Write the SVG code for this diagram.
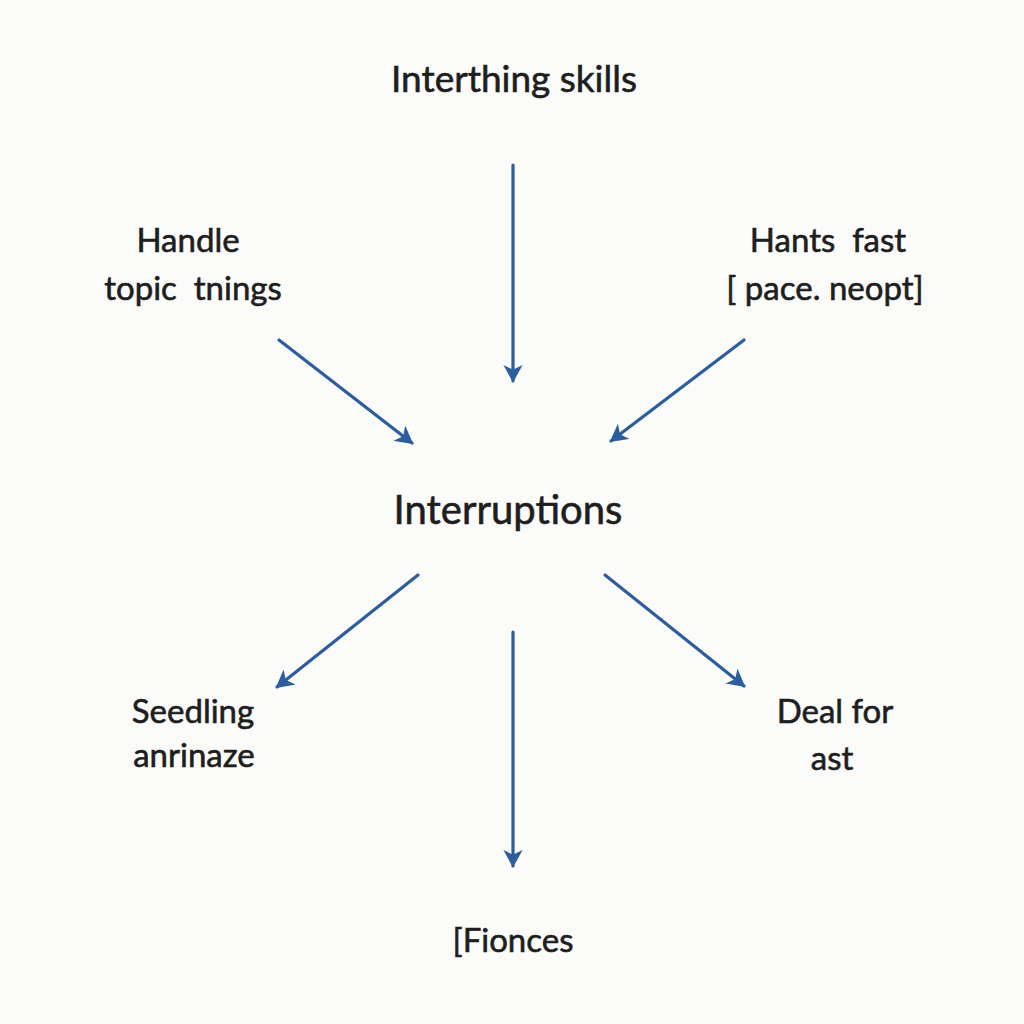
<svg xmlns="http://www.w3.org/2000/svg" width="1024" height="1024" viewBox="0 0 1024 1024">
<style>
.t{font-family:Lato,"Open Sans","Liberation Sans",sans-serif;fill:#1e1e1e;stroke:#1e1e1e;stroke-width:0.6;text-anchor:middle;font-size:33px}
.c{stroke:#2c5d9c;stroke-width:3.2;fill:none;stroke-linecap:round}
</style>
<defs>
<marker id="ah" viewBox="0 0 12 12" refX="10" refY="6" markerWidth="6" markerHeight="6" orient="auto" markerUnits="strokeWidth">
<path d="M0,0 L11,6 L0,12 L3,6 Z" fill="#2c5d9c"/>
</marker>
</defs>
<rect width="1024" height="1024" fill="#fbfbf9"/>
<g id="connectors">
<line class="c" x1="513" y1="165" x2="513" y2="381" marker-end="url(#ah)"/>
<line class="c" x1="279" y1="340" x2="412" y2="443" marker-end="url(#ah)"/>
<line class="c" x1="744" y1="340" x2="611" y2="441" marker-end="url(#ah)"/>
<line class="c" x1="418" y1="575" x2="277" y2="687" marker-end="url(#ah)"/>
<line class="c" x1="513" y1="632" x2="513" y2="866" marker-end="url(#ah)"/>
<line class="c" x1="605" y1="575" x2="744" y2="686" marker-end="url(#ah)"/>
</g>
<g id="node-top"><text class="t" x="514" y="92" style="font-size:37px">Interthing skills</text></g>
<g id="node-left-top"><text class="t" x="188" y="252">Handle</text><text class="t" x="193" y="300" xml:space="preserve">topic  tnings</text></g>
<g id="node-right-top"><text class="t" x="828" y="252" xml:space="preserve">Hants  fast</text><text class="t" x="825" y="300">[ pace. neopt]</text></g>
<g id="node-center"><text class="t" x="508" y="524" style="font-size:40px">Interruptions</text></g>
<g id="node-left-bottom"><text class="t" x="193" y="723">Seedling</text><text class="t" x="194" y="767">anrinaze</text></g>
<g id="node-right-bottom"><text class="t" x="835" y="723">Deal for</text><text class="t" x="832" y="770">ast</text></g>
<g id="node-bottom"><text class="t" x="513" y="952">[Fionces</text></g>
</svg>
